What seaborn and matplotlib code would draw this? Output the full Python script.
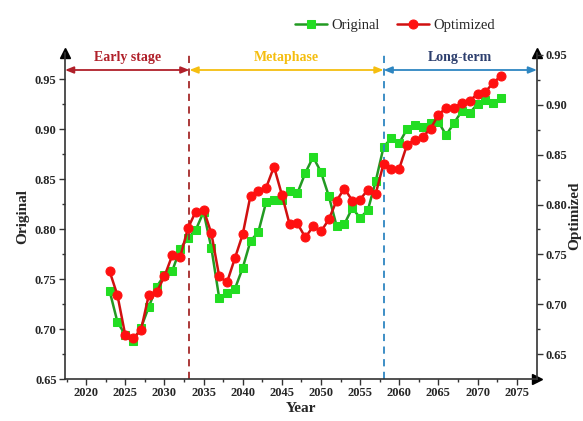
import matplotlib
matplotlib.use('Agg')
import matplotlib.pyplot as plt
from matplotlib.ticker import MultipleLocator, FixedLocator, FormatStrFormatter
import seaborn as sns

years = list(range(2023, 2074))
original = [0.738, 0.707, 0.694, 0.688, 0.701, 0.722, 0.742, 0.754, 0.758, 0.780,
            0.791, 0.799, 0.817, 0.781, 0.731, 0.736, 0.740, 0.761, 0.788, 0.797,
            0.827, 0.829, 0.829, 0.838, 0.836, 0.856, 0.872, 0.857, 0.833, 0.803,
            0.805, 0.821, 0.811, 0.819, 0.848, 0.882, 0.891, 0.886, 0.900, 0.904,
            0.902, 0.906, 0.907, 0.894, 0.906, 0.918, 0.916, 0.925, 0.929, 0.926,
            0.931]
optimized = [0.733, 0.709, 0.669, 0.666, 0.674, 0.709, 0.712, 0.728, 0.749, 0.747,
             0.776, 0.793, 0.795, 0.771, 0.728, 0.722, 0.746, 0.770, 0.809, 0.814,
             0.817, 0.838, 0.810, 0.780, 0.781, 0.767, 0.778, 0.773, 0.785, 0.804,
             0.816, 0.804, 0.805, 0.815, 0.811, 0.841, 0.836, 0.836, 0.860, 0.865,
             0.868, 0.876, 0.890, 0.897, 0.897, 0.902, 0.904, 0.911, 0.913, 0.922,
             0.929]

stage_names = ['Early stage', 'Metaphase', 'Long-term']
stage_bounds = [2017.3, 2033.2, 2058.0, 2077.6]
stage_text_col = ['#B0202A', '#F5BE10', '#2D3F6E']
stage_arrow_col = ['#B0202A', '#F5BE10', '#2E86C1']

sns.set_style('ticks')
plt.rcParams['font.family'] = ['Liberation Serif', 'DejaVu Serif']
plt.rcParams['font.weight'] = 'bold'
plt.rcParams['axes.labelweight'] = 'bold'

fig = plt.figure(figsize=(5.83, 4.21), dpi=100)
ax = fig.add_axes([65/583, 42/421, 472/583, 326/421])
ax2 = ax.twinx()

sns.lineplot(x=years, y=original, ax=ax, color='#229A22', linewidth=1.8,
             marker='s', markersize=6, markerfacecolor='#22DD22',
             markeredgecolor='#22DD22', label='Original', legend=False)
sns.lineplot(x=years, y=optimized, ax=ax2, color='#D01010', linewidth=1.8,
             marker='o', markersize=6.5, markerfacecolor='#FF1010',
             markeredgecolor='#FF1010', label='Optimized', legend=False)
h1 = ax.lines[0]
h2 = ax2.lines[0]

ax.set_xlim(stage_bounds[0], stage_bounds[-1])
ax.set_ylim(0.65, 0.976)
ax2.set_ylim(0.625, 0.952)

ax.xaxis.set_major_locator(MultipleLocator(5))
ax.xaxis.set_minor_locator(MultipleLocator(2.5))
ax.yaxis.set_major_locator(FixedLocator([0.65, 0.70, 0.75, 0.80, 0.85, 0.90, 0.95]))
ax.yaxis.set_minor_locator(FixedLocator([0.675, 0.725, 0.775, 0.825, 0.875, 0.925]))
ax2.yaxis.set_major_locator(FixedLocator([0.65, 0.70, 0.75, 0.80, 0.85, 0.90, 0.95]))
ax2.yaxis.set_minor_locator(FixedLocator([0.675, 0.725, 0.775, 0.825, 0.875, 0.925]))
ax.yaxis.set_major_formatter(FormatStrFormatter('%.2f'))
ax2.yaxis.set_major_formatter(FormatStrFormatter('%.2f'))

for a in (ax, ax2):
    a.tick_params(which='major', length=4, width=1, labelsize=9, pad=2, color='#333333')
    a.tick_params(which='minor', length=2.5, width=1, color='#333333')
    a.spines['top'].set_visible(False)
    for s in a.spines.values():
        s.set_linewidth(1.2)
        s.set_color('#333333')
ax.spines['right'].set_visible(False)
ax2.spines['left'].set_visible(False)
ax2.spines['bottom'].set_visible(False)

# arrow heads on axes
ax.plot(0, 1, marker='^', color='black', markersize=7, transform=ax.transAxes, clip_on=False)
ax.plot(1, 1, marker='^', color='black', markersize=7, transform=ax.transAxes, clip_on=False)
ax.plot(1, 0, marker='>', color='black', markersize=7, transform=ax.transAxes, clip_on=False)

ax.set_xlabel('Year', fontsize=11, labelpad=2)
ax.set_ylabel('Original', fontsize=11, labelpad=4)
ax2.set_ylabel('Optimized', fontsize=11, labelpad=1)

# stage separators
ax.axvline(stage_bounds[1], color='#A52A2A', linestyle=(0, (4, 3)), linewidth=1.3)
ax.axvline(stage_bounds[2], color='#2E86C1', linestyle=(0, (4, 3)), linewidth=1.3)

for i, name in enumerate(stage_names):
    x0, x1 = stage_bounds[i], stage_bounds[i + 1]
    ax.annotate('', xy=(x1, 0.959), xytext=(x0, 0.959), annotation_clip=False,
                arrowprops=dict(arrowstyle='<|-|>,head_length=0.5,head_width=0.2',
                                color=stage_arrow_col[i], lw=1.3,
                                shrinkA=0, shrinkB=0))
    ax.text((x0 + x1) / 2, 0.972, name, color=stage_text_col[i], fontsize=10,
            fontweight='bold', ha='center', va='center', clip_on=False)

fig.legend([h1, h2], ['Original', 'Optimized'], loc='center',
           bbox_to_anchor=(395/583, 1 - 25/421), ncol=2, frameon=False,
           prop={'weight': 'normal', 'size': 10.5}, handlelength=2.2,
           columnspacing=1.2, handletextpad=0.3)

fig.savefig('out.png', dpi=100)
